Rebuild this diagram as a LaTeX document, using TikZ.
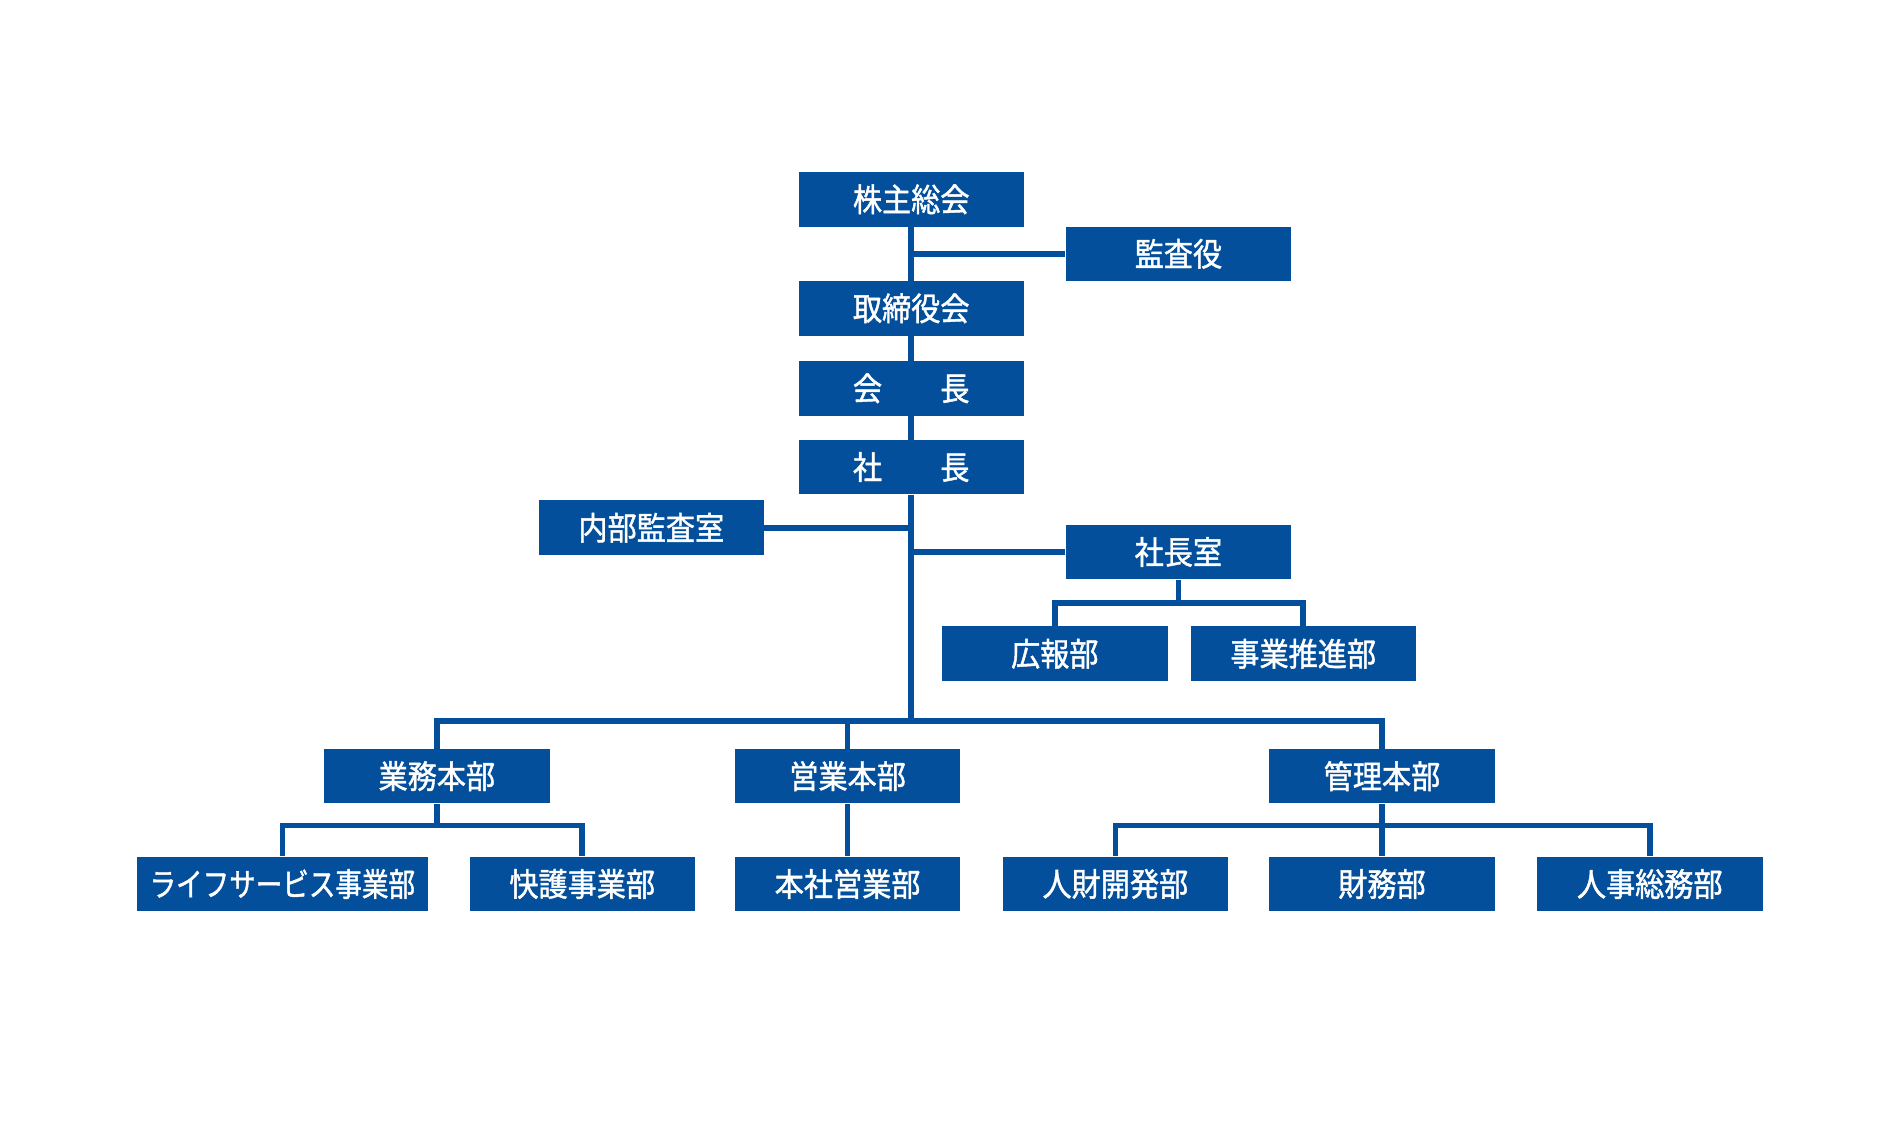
\documentclass[tikz,border=0pt]{standalone}
\usepackage{fontspec}
\newfontfamily\jpfont[FakeStretch=0.9,FakeBold=1.3]{Noto Sans CJK JP}
\newfontfamily\jpnarrow[FakeStretch=0.82,FakeBold=1.3]{Noto Sans CJK JP}
\usetikzlibrary{positioning}
\definecolor{orgblue}{HTML}{034F9B}

\begin{document}
\begin{tikzpicture}[x=0.025cm,y=-0.025cm,
  unit/.style={fill=orgblue,text=white,font=\jpfont\fontsize{19}{19}\selectfont,
    minimum width=4.65cm,minimum height=1.125cm,inner sep=0pt},
  wide/.style={unit,minimum width=6cm,font=\jpnarrow\fontsize{19}{19}\selectfont},
  link/.style={draw=orgblue,line width=3.3pt}]
  \useasboundingbox (0,0) rectangle (1568,944);

  % top of the line
  \node[unit] (soukai)  at (752,164.5) {株主総会};
  \node[unit] (kansa)   at (972.5,209.5) {監査役};
  \node[unit] (torishi) at (752,254.5) {取締役会};
  \node[unit] (kaicho)  at (752,320.5) {会　　長};
  \node[unit] (shacho)  at (752,385.5) {社　　長};
  \node[unit] (naibu)   at (537.5,435.5) {内部監査室};
  \node[unit] (shitsu)  at (972.5,455.5) {社長室};
  \node[unit] (koho)    at (870.5,539.5) {広報部};
  \node[unit] (suishin) at (1075.5,539.5) {事業推進部};

  % head offices
  \node[unit] (gyomu) at (360.5,640.5) {業務本部};
  \node[unit] (eigyo) at (699.5,640.5) {営業本部};
  \node[unit] (kanri) at (1140.5,640.5) {管理本部};

  % departments
  \node[wide] (life)   at (233,729.5) {ライフサービス事業部};
  \node[unit] (kaigo)  at (480.5,729.5) {快護事業部};
  \node[unit] (honsha) at (699.5,729.5) {本社営業部};
  \node[unit] (jinzai) at (920.5,729.5) {人財開発部};
  \node[unit] (zaimu)  at (1140.5,729.5) {財務部};
  \node[unit] (jinji)  at (1361.5,729.5) {人事総務部};

  \coordinate (bus) at (752,595);

  \draw[link] (soukai) -- (torishi);
  \draw[link] (torishi) -- (kaicho);
  \draw[link] (kaicho) -- (shacho);
  \draw[link] (shacho.south) -- (bus);
  \draw[link] (kansa.west) -- (kansa.west -| soukai.south);
  \draw[link] (naibu.east) -- (naibu.east -| shacho.south);
  \draw[link] (shitsu.west) -- (shitsu.west -| shacho.south);

  \draw[link] (shitsu.south) -- ++(0,19.5) coordinate (sb);
  \draw[link] (koho.north) |- (sb) -| (suishin.north);

  \draw[link] (gyomu.north) |- (bus) -| (kanri.north);
  \draw[link] (eigyo.north) -- (eigyo.north |- bus);

  \draw[link] (gyomu.south) -- ++(0,18) coordinate (gb);
  \draw[link] (life.north) |- (gb) -| (kaigo.north);
  \draw[link] (eigyo) -- (honsha);
  \draw[link] (kanri.south) -- ++(0,18) coordinate (kb);
  \draw[link] (jinzai.north) |- (kb) -| (jinji.north);
  \draw[link] (kb) -- (zaimu.north);

\end{tikzpicture}
\end{document}
